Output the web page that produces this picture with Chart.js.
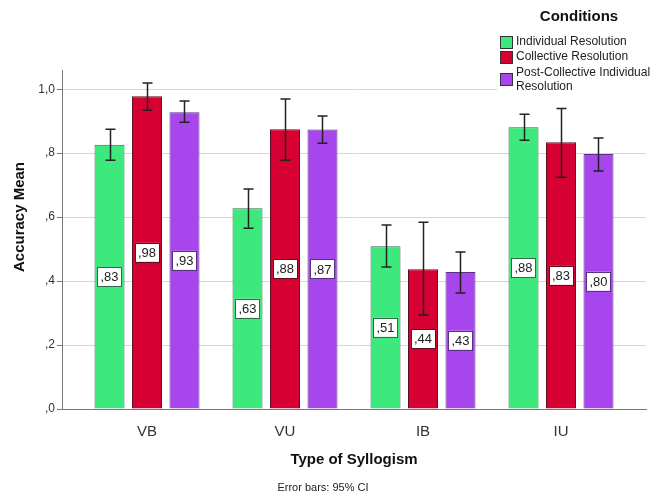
<!DOCTYPE html>
<html>
<head>
<meta charset="utf-8">
<script src="https://cdn.jsdelivr.net/npm/chart.js@4/dist/chart.umd.min.js"></script>
<style>
html,body{margin:0;padding:0;background:#fff;}
#wrap{width:670px;height:495px;position:relative;}
</style>
</head>
<body>
<div id="wrap"><canvas id="chart"></canvas></div>
<script>
// categories and series
const syllogisms = ['VB', 'VU', 'IB', 'IU'];
const conditionNames = ['Individual Resolution', 'Collective Resolution', 'Post-Collective Individual Resolution'];
const individual = [0.826, 0.628, 0.509, 0.881];
const collective = [0.978, 0.875, 0.437, 0.834];
const postCollective = [0.928, 0.874, 0.428, 0.797];
// 95% CI bounds
const individualLow = [0.778, 0.565, 0.444, 0.840];
const individualHigh = [0.875, 0.688, 0.575, 0.922];
const collectiveLow = [0.934, 0.778, 0.294, 0.725];
const collectiveHigh = [1.019, 0.969, 0.584, 0.940];
const postLow = [0.897, 0.831, 0.363, 0.744];
const postHigh = [0.963, 0.916, 0.491, 0.847];
const yTicks = [0, 0.2, 0.4, 0.6, 0.8, 1.0];

const fillColors = ['#3de97c', '#d60032', '#a846ee'];
const edgeColors = ['#2f6b45', '#5e0d1f', '#5b2f85'];
const FONT = "'Liberation Sans', Arial, sans-serif";

function fmt(v) {
  // SPSS style comma decimals, no leading zero
  let s = v.toFixed(2).replace('.', ',');
  if (s.charAt(0) === '0') s = s.substring(1);
  return s;
}

function points(vals) {
  return vals.map((v, i) => ({x: i, y: v}));
}

const lows = [individualLow, collectiveLow, postLow];
const highs = [individualHigh, collectiveHigh, postHigh];

// error bars + value boxes
const barExtras = {
  id: 'barExtras',
  afterDatasetsDraw(chart) {
    const ctx = chart.ctx;
    const y = chart.scales.y;
    chart.data.datasets.forEach((ds, di) => {
      const meta = chart.getDatasetMeta(di);
      meta.data.forEach((bar, i) => {
        // labels in middle of bar
        const mid = (bar.y + bar.base) / 2;
        const txt = fmt(ds.data[i].y);
        ctx.save();
        ctx.font = '13px ' + FONT;
        const w = ctx.measureText(txt).width + 6;
        const h = 19;
        ctx.fillStyle = '#fff';
        ctx.fillRect(bar.x - w / 2, mid - h / 2, w, h);
        ctx.strokeStyle = edgeColors[di];
        ctx.lineWidth = 1;
        ctx.strokeRect(Math.round(bar.x - w / 2) + 0.5, Math.round(mid - h / 2) + 0.5, Math.round(w), h);
        ctx.fillStyle = '#222';
        ctx.textAlign = 'center';
        ctx.textBaseline = 'middle';
        ctx.fillText(txt, bar.x, mid + 1);
        ctx.restore();
      });
    });
    chart.data.datasets.forEach((ds, di) => {
      const meta = chart.getDatasetMeta(di);
      meta.data.forEach((bar, i) => {
        const yl = y.getPixelForValue(lows[di][i]);
        const yh = y.getPixelForValue(highs[di][i]);
        const x = Math.round(bar.x) + 0.5;
        ctx.save();
        ctx.strokeStyle = '#222';
        ctx.lineWidth = 1.5;
        ctx.beginPath();
        ctx.moveTo(x, yl); ctx.lineTo(x, yh);
        ctx.moveTo(x - 5, yl); ctx.lineTo(x + 5, yl);
        ctx.moveTo(x - 5, yh); ctx.lineTo(x + 5, yh);
        ctx.stroke();
        ctx.restore();
      });
    });
  }
};

// legend box in the top right, over the plot; y title placed like SPSS
const conditionsLegend = {
  id: 'conditionsLegend',
  afterDraw(chart) {
    const ctx = chart.ctx;
    ctx.save();
    ctx.fillStyle = '#fff';
    ctx.fillRect(497, 0, 173, 98);
    ctx.fillStyle = '#111';
    ctx.font = 'bold 15px ' + FONT;
    ctx.textAlign = 'center';
    ctx.textBaseline = 'middle';
    ctx.fillText('Conditions', 579, 17);

    ctx.save();
    ctx.translate(20, 217);
    ctx.rotate(-Math.PI / 2);
    ctx.fillText('Accuracy Mean', 0, 0);
    ctx.restore();

    ctx.font = '12px ' + FONT;
    ctx.textAlign = 'left';
    const lines = [['Individual Resolution'], ['Collective Resolution'], ['Post-Collective Individual', 'Resolution']];
    const rowY = [42, 57, 79];
    lines.forEach((ln, k) => {
      const cy = rowY[k];
      ctx.fillStyle = fillColors[k];
      ctx.fillRect(500, cy - 6, 13, 13);
      ctx.strokeStyle = '#333';
      ctx.lineWidth = 1;
      ctx.strokeRect(500.5, cy - 5.5, 12, 12);
      ctx.fillStyle = '#222';
      if (ln.length === 1) {
        ctx.fillText(ln[0], 516, cy);
      } else {
        ctx.fillText(ln[0], 516, cy - 6);
        ctx.fillText(ln[1], 516, cy + 8);
      }
    });
    ctx.restore();
  }
};

const datasets = [individual, collective, postCollective].map((vals, k) => ({
  label: conditionNames[k],
  data: points(vals),
  backgroundColor: fillColors[k],
  borderColor: edgeColors[k],
  borderWidth: 1,
  categoryPercentage: 0.815,
  barPercentage: 0.8
}));

new Chart(document.getElementById('chart'), {
  type: 'bar',
  data: {datasets: datasets},
  options: {
    responsive: true,
    maintainAspectRatio: false,
    animation: false,
    layout: {padding: {top: 70, right: 24, left: 0, bottom: 0}},
    plugins: {
      legend: {display: false},
      tooltip: {enabled: false},
      subtitle: {
        display: true,
        position: 'bottom',
        text: 'Error bars: 95% CI',
        color: '#222',
        font: {family: FONT, size: 11},
        padding: {top: 0, bottom: 0}
      }
    },
    scales: {
      x: {
        type: 'linear',
        min: -0.616,
        max: 3.616,
        offset: false,
        grid: {display: false, offset: false},
        border: {display: true, color: '#777'},
        ticks: {
          stepSize: 1,
          includeBounds: false,
          padding: 6,
          color: '#333',
          font: {family: FONT, size: 15},
          callback: v => syllogisms[v] || ''
        },
        title: {
          display: true,
          text: 'Type of Syllogism',
          color: '#111',
          font: {family: FONT, size: 15, weight: 'bold'},
          padding: {top: 0, bottom: 13}
        },
        afterFit: s => { s.height = 72.8; }
      },
      y: {
        min: 0,
        max: 1.06,
        grid: {color: '#d6d6d6', tickColor: '#777', tickLength: 5},
        border: {display: true, color: '#777'},
        afterBuildTicks: s => { s.ticks = yTicks.map(v => ({value: v})); },
        ticks: {
          padding: 2,
          color: '#333',
          font: {family: FONT, size: 12},
          callback: v => v.toFixed(1).replace('.', ',').replace(/^0/, '')
        },
        title: {display: false},
        afterFit: s => { s.width = 62; }
      }
    }
  },
  plugins: [barExtras, conditionsLegend]
});
</script>
</body>
</html>
